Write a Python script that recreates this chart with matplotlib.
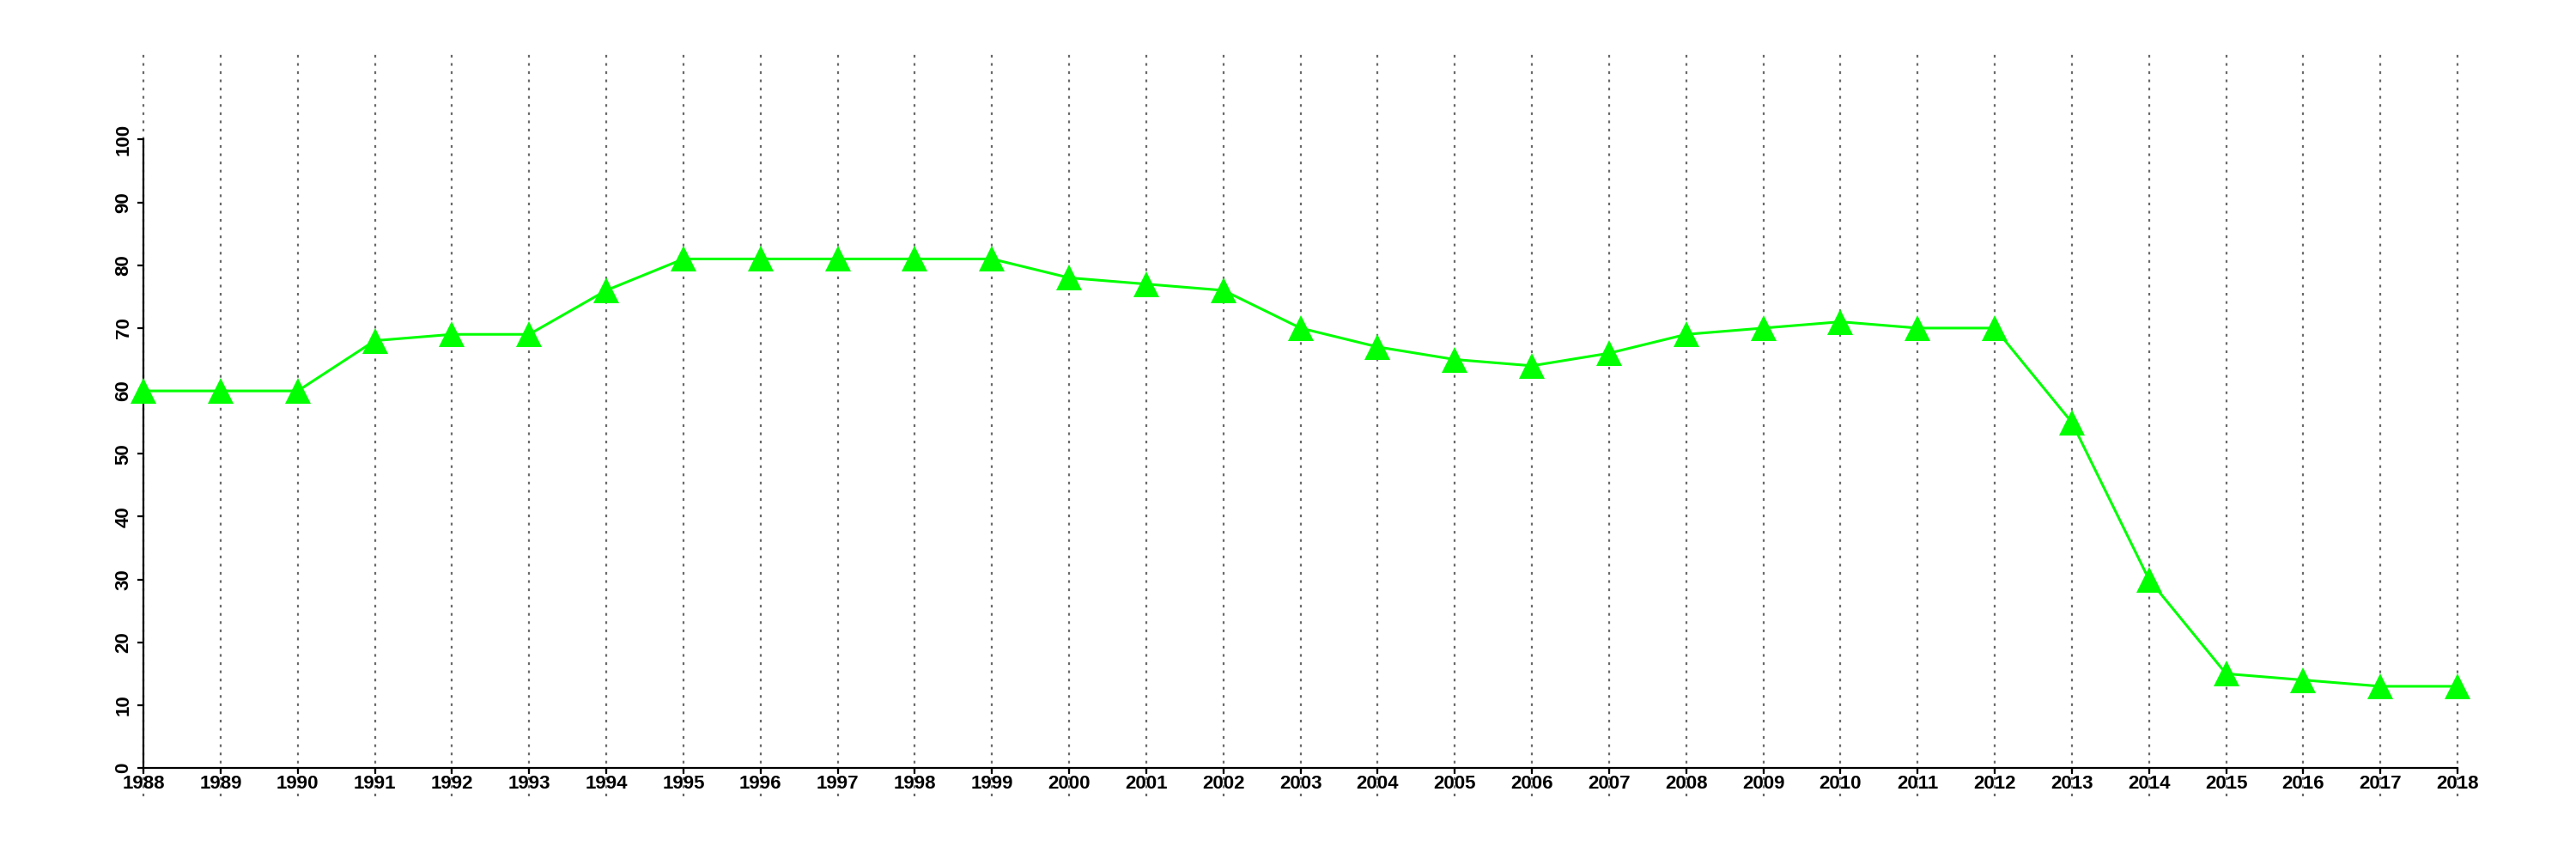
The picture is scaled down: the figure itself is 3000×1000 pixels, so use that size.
import numpy as np
import matplotlib
matplotlib.use("Agg")
import matplotlib.pyplot as plt

years = list(range(1988, 2019))
values = [60, 60, 60, 68, 69, 69, 76, 81, 81, 81, 81, 81, 78, 77, 76, 70,
          67, 65, 64, 66, 69, 70, 71, 70, 70, 55, 30, 15, 14, 13, 13]
yticks = [0, 10, 20, 30, 40, 50, 60, 70, 80, 90, 100]

plt.rcParams['font.family'] = ['Liberation Sans', 'DejaVu Sans']
plt.rcParams['font.weight'] = 'bold'

fig = plt.figure(figsize=(30, 10), dpi=100)
ax = fig.add_axes([0.0557, 0.073, 0.954 - 0.0557, 0.94 - 0.073])
ax.set_xlim(1988, 2018)
ax.set_ylim(-4.5, 114)

# dotted guides at every year, running past the axis
ax.vlines(years, -4.5, 114, colors='#6a6a6a', linestyles=(0, (1.4, 2.9)),
          linewidth=1.6, zorder=1, clip_on=False)

ax.plot(years, values, color='#00ff00', linewidth=2.2, marker='^',
        markersize=21, markeredgewidth=0, zorder=3, clip_on=False)

for s in ['top', 'right']:
    ax.spines[s].set_visible(False)
ax.spines['left'].set_bounds(0, 100)
ax.spines['bottom'].set_position(('data', 0))
ax.spines['bottom'].set_bounds(1988, 2018)
ax.spines['left'].set_linewidth(1.6)
ax.spines['bottom'].set_linewidth(1.6)

ax.set_xticks(years)
ax.set_xticklabels([str(y) for y in years], fontweight='bold')
ax.set_yticks(yticks)
ax.set_yticklabels([str(v) for v in yticks], rotation=90, va='center',
                   fontweight='bold')
ax.tick_params(axis='x', length=5, width=1.6, pad=0.5, labelsize=16)
ax.tick_params(axis='y', length=5, width=1.6, pad=4, labelsize=16)

fig.savefig('out.png', dpi=100)
